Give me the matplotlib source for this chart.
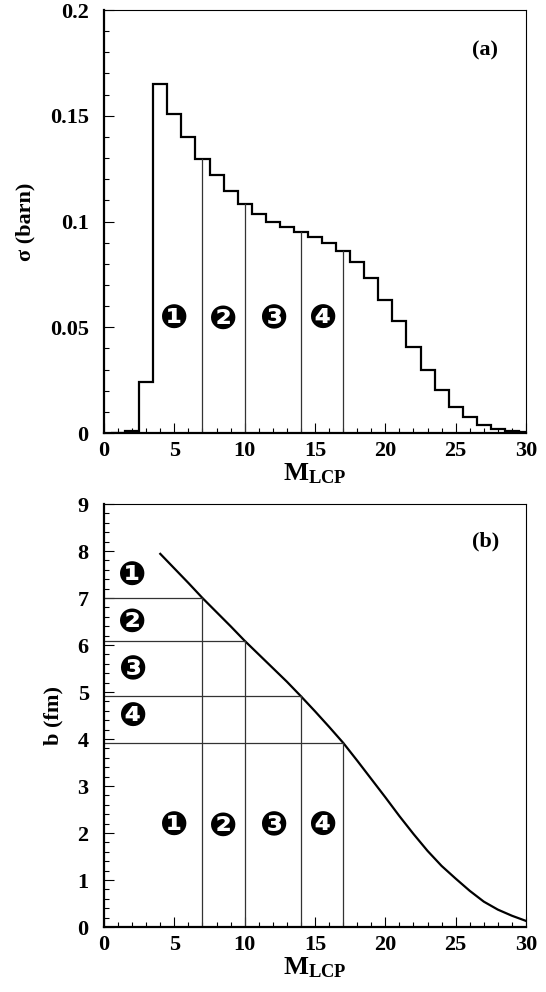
import numpy as np
import matplotlib
matplotlib.use("Agg")
import matplotlib.pyplot as plt
from matplotlib.ticker import MultipleLocator, FuncFormatter
from matplotlib.transforms import offset_copy

plt.rcParams['font.family'] = ['Liberation Serif', 'DejaVu Sans']
plt.rcParams['font.weight'] = 'bold'
plt.rcParams['mathtext.fontset'] = 'custom'
plt.rcParams['mathtext.rm'] = 'Liberation Serif:bold'
plt.rcParams['mathtext.bf'] = 'Liberation Serif:bold'

# --- data ---
# cross section per M_LCP bin (bins centred on integers)
mult = np.arange(1, 31)
sigma = [0.0002, 0.0008, 0.0241, 0.165, 0.1507, 0.1398, 0.1296, 0.1218,
         0.1146, 0.1081, 0.1035, 0.0998, 0.0972, 0.0949, 0.0927, 0.0898,
         0.0860, 0.0809, 0.0733, 0.0630, 0.0530, 0.0408, 0.0296, 0.0202,
         0.0124, 0.0074, 0.0038, 0.0019, 0.0009, 0.0003]

# impact parameter vs M_LCP
m_curve = [4, 5, 6, 7, 8, 9, 10, 11, 12, 13, 14, 15, 16, 17, 18, 19, 20,
           21, 22, 23, 24, 25, 26, 27, 28, 29, 30]
b_curve = [7.94, 7.63, 7.32, 7.00, 6.70, 6.40, 6.09, 5.80, 5.51, 5.22, 4.91,
           4.59, 4.26, 3.92, 3.54, 3.15, 2.76, 2.36, 1.98, 1.62, 1.30, 1.03,
           0.77, 0.54, 0.37, 0.24, 0.13]

# centrality cuts
cuts = [7, 10, 14, 17]
cut_sigma = [0.1296, 0.1081, 0.0949, 0.0860]
cut_b = [7.00, 6.09, 4.91, 3.92]
bin_labels = ['\u2776', '\u2777', '\u2778', '\u2779']
label_x = [5, 8.5, 12, 15.5]
label_b_left = [7.52, 6.53, 5.52, 4.51]

FS = 16
NUM_FS = 24
fig = plt.figure(figsize=(5.46, 9.92), dpi=100)
ax1 = fig.add_axes([0.1905, 0.5635, 0.7729, 0.4264])
ax2 = fig.add_axes([0.1905, 0.0655, 0.7729, 0.4264])


def style_axes(ax):
    ax.spines['left'].set_linewidth(1.6)
    ax.spines['bottom'].set_linewidth(1.6)
    ax.spines['top'].set_linewidth(0.8)
    ax.spines['right'].set_linewidth(0.8)
    ax.tick_params(which='both', direction='in', top=False, right=False,
                   labelsize=FS, width=0.8)
    ax.tick_params(which='major', length=7)
    ax.tick_params(which='minor', length=3.5)
    ax.tick_params(axis='x', pad=6)
    ax.tick_params(axis='y', pad=11)
    ax.set_xlim(0, 30)
    ax.xaxis.set_major_locator(MultipleLocator(5))
    ax.xaxis.set_minor_locator(MultipleLocator(1))
    for lab in ax.get_xticklabels() + ax.get_yticklabels():
        lab.set_fontweight('bold')
    ax.set_xlabel(r'$\mathbf{M_{LCP}}$', fontsize=FS + 3, labelpad=0)


def fmt(v, pos):
    return ('%g' % round(v, 4))


def put_number(ax, x, y, t):
    # glyph sits a little high with va='center', nudge it down
    tr = offset_copy(ax.transData, fig=fig, x=0, y=-2.5, units='dots')
    ax.text(x, y, t, fontsize=NUM_FS, ha='center', va='center',
            family='DejaVu Sans', transform=tr)


# --- panel (a) ---
edges = np.append(mult - 0.5, mult[-1] + 0.5)
ax1.stairs(sigma, edges, color='black', linewidth=1.6)
for c, s in zip(cuts, cut_sigma):
    ax1.plot([c, c], [0, s], color='#333333', linewidth=0.9)
for x, t in zip(label_x, bin_labels):
    put_number(ax1, x, 0.055, t)
ax1.set_ylim(0, 0.2)
ax1.yaxis.set_major_locator(MultipleLocator(0.05))
ax1.yaxis.set_minor_locator(MultipleLocator(0.01))
ax1.yaxis.set_major_formatter(FuncFormatter(fmt))
style_axes(ax1)
ax1.set_ylabel('\u03c3 (barn)', fontsize=FS, fontweight='bold', labelpad=10)
ax1.text(27.1, 0.181, '(a)', fontsize=FS, fontweight='bold',
         ha='center', va='center')

# --- panel (b) ---
ax2.plot(m_curve, b_curve, color='black', linewidth=1.6)
for c, b in zip(cuts, cut_b):
    ax2.plot([c, c], [0, b], color='#333333', linewidth=0.9)
    ax2.plot([0, c], [b, b], color='#333333', linewidth=0.9)
for x, t in zip(label_x, bin_labels):
    put_number(ax2, x, 2.2, t)
for y, t in zip(label_b_left, bin_labels):
    put_number(ax2, 2, y, t)
ax2.set_ylim(0, 9)
ax2.yaxis.set_major_locator(MultipleLocator(1))
ax2.yaxis.set_minor_locator(MultipleLocator(0.2))
style_axes(ax2)
ax2.set_ylabel('b (fm)', fontsize=FS, fontweight='bold', labelpad=10)
ax2.text(27.1, 8.2, '(b)', fontsize=FS, fontweight='bold',
         ha='center', va='center')

fig.savefig('out.png', dpi=100)
